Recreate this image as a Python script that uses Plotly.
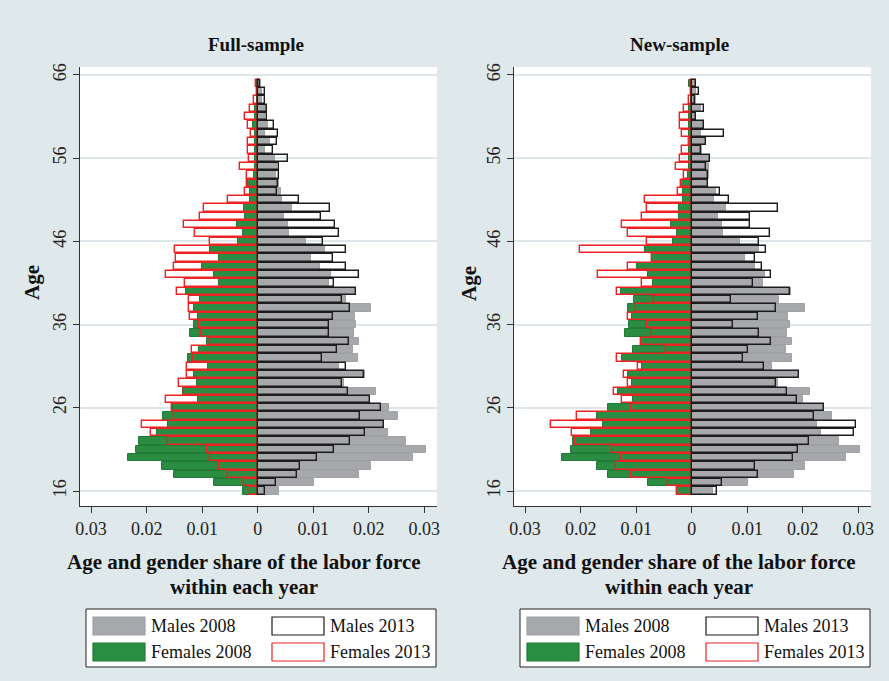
import plotly.graph_objects as go

ages = list(range(16, 66))

# ---- Full-sample (ages 16..65) ----
full_males_2008 = [0.0038, 0.0102, 0.0183, 0.0205, 0.0279, 0.0303, 0.0267, 0.0234, 0.0227, 0.0252,
                   0.0237, 0.0201, 0.0213, 0.0156, 0.0193, 0.0147, 0.0181, 0.0172, 0.0182, 0.0174,
                   0.0178, 0.0175, 0.0205, 0.0159, 0.0177, 0.0129, 0.0132, 0.0112, 0.0096, 0.0121,
                   0.0087, 0.0056, 0.0054, 0.0047, 0.0062, 0.0044, 0.0042, 0.0038, 0.0033, 0.0034,
                   0.0031, 0.0014, 0.0023, 0.0014, 0.0019, 0.0013, 0.0015, 0.0007, 0.0007, 0.0006]
full_males_2013 = [0.0013, 0.0033, 0.0071, 0.0076, 0.0106, 0.0138, 0.0167, 0.0194, 0.0228, 0.0185,
                   0.0222, 0.0203, 0.0162, 0.0151, 0.0192, 0.0159, 0.0115, 0.0142, 0.0165, 0.0129,
                   0.0129, 0.0135, 0.0167, 0.0151, 0.0178, 0.0138, 0.0182, 0.0159, 0.0136, 0.0159,
                   0.0117, 0.0147, 0.0140, 0.0114, 0.0130, 0.0074, 0.0034, 0.0037, 0.0038, 0.0038,
                   0.0055, 0.0028, 0.0034, 0.0037, 0.0030, 0.0017, 0.0017, 0.0014, 0.0013, 0.0005]
full_females_2008 = [0.0026, 0.0078, 0.0151, 0.0172, 0.0234, 0.0219, 0.0214, 0.0182, 0.0161, 0.0171,
                     0.0152, 0.0107, 0.0134, 0.0109, 0.0114, 0.0089, 0.0126, 0.0106, 0.0092, 0.0121,
                     0.0114, 0.0108, 0.0115, 0.0104, 0.0129, 0.0070, 0.0079, 0.0100, 0.0070, 0.0086,
                     0.0035, 0.0027, 0.0038, 0.0022, 0.0025, 0.0014, 0.0014, 0.0017, 0.0007, 0.0004,
                     0.0005, 0.0005, 0.0005, 0.0004, 0.0008, 0.0004, 0.0004, 0.0002, 0.0002, 0.0003]
full_females_2013 = [0.0014, 0.0024, 0.0053, 0.0070, 0.0086, 0.0092, 0.0161, 0.0193, 0.0208, 0.0150,
                     0.0154, 0.0166, 0.0133, 0.0141, 0.0128, 0.0128, 0.0116, 0.0118, 0.0085, 0.0102,
                     0.0106, 0.0121, 0.0123, 0.0123, 0.0145, 0.0130, 0.0165, 0.0150, 0.0148, 0.0149,
                     0.0086, 0.0113, 0.0132, 0.0103, 0.0096, 0.0053, 0.0022, 0.0020, 0.0020, 0.0032,
                     0.0016, 0.0018, 0.0017, 0.0012, 0.0018, 0.0022, 0.0014, 0.0007, 0.0002, 0.0003]

# ---- New-sample ----
new_males_2008 = [0.0038, 0.0102, 0.0184, 0.0205, 0.0278, 0.0303, 0.0265, 0.0233, 0.0226, 0.0252,
                  0.0239, 0.0200, 0.0214, 0.0155, 0.0194, 0.0145, 0.0181, 0.0170, 0.0181, 0.0172,
                  0.0177, 0.0174, 0.0205, 0.0157, 0.0179, 0.0129, 0.0132, 0.0114, 0.0096, 0.0122,
                  0.0087, 0.0056, 0.0054, 0.0047, 0.0061, 0.0041, 0.0044, 0.0030, 0.0031, 0.0032,
                  0.0033, 0.0019, 0.0026, 0.0016, 0.0022, 0.0008, 0.0017, 0.0008, 0.0008, 0.0008]
new_males_2013 = [0.0046, 0.0054, 0.0119, 0.0114, 0.0183, 0.0191, 0.0212, 0.0292, 0.0296, 0.0220,
                  0.0239, 0.0190, 0.0172, 0.0152, 0.0194, 0.0130, 0.0093, 0.0102, 0.0143, 0.0122,
                  0.0075, 0.0119, 0.0152, 0.0071, 0.0177, 0.0110, 0.0143, 0.0127, 0.0114, 0.0133,
                  0.0122, 0.0141, 0.0105, 0.0105, 0.0156, 0.0067, 0.0051, 0.0029, 0.0029, 0.0026,
                  0.0033, 0.0017, 0.0025, 0.0059, 0.0022, 0.0008, 0.0022, 0.0006, 0.0013, 0.0007]
new_females_2008 = [0.0026, 0.0078, 0.0151, 0.0171, 0.0233, 0.0218, 0.0213, 0.0181, 0.0159, 0.0170,
                    0.0150, 0.0106, 0.0133, 0.0108, 0.0114, 0.0089, 0.0126, 0.0105, 0.0092, 0.0120,
                    0.0113, 0.0107, 0.0114, 0.0104, 0.0128, 0.0069, 0.0079, 0.0099, 0.0071, 0.0084,
                    0.0034, 0.0026, 0.0037, 0.0022, 0.0023, 0.0016, 0.0016, 0.0019, 0.0007, 0.0004,
                    0.0004, 0.0005, 0.0005, 0.0004, 0.0005, 0.0004, 0.0004, 0.0002, 0.0002, 0.0004]
new_females_2013 = [0.0026, 0.0042, 0.0110, 0.0136, 0.0127, 0.0143, 0.0210, 0.0215, 0.0253, 0.0206,
                    0.0110, 0.0126, 0.0139, 0.0114, 0.0122, 0.0096, 0.0135, 0.0046, 0.0092, 0.0071,
                    0.0080, 0.0114, 0.0101, 0.0068, 0.0135, 0.0089, 0.0168, 0.0114, 0.0071, 0.0202,
                    0.0080, 0.0114, 0.0126, 0.0089, 0.0080, 0.0084, 0.0025, 0.0020, 0.0014, 0.0029,
                    0.0021, 0.0017, 0.0005, 0.0017, 0.0021, 0.0021, 0.0013, 0.0005, 0.0002, 0.0001]

panel_titles = ["Full-sample", "New-sample"]
x_tick_vals = [-0.03, -0.02, -0.01, 0, 0.01, 0.02, 0.03]
x_tick_text = ["0.03", "0.02", "0.01", "0", "0.01", "0.02", "0.03"]
y_tick_vals = [16, 26, 36, 46, 56, 66]
legend_labels = ["Males 2008", "Males 2013", "Females 2008", "Females 2013"]

W, H = 889, 681
BG = "#dfe8ea"
GREEN = "#2a8d42"
GREEN_LINE = "#217a37"
GRAY = "#a7a8ac"
GRAY_LINE = "#a0a1a5"
BLACK = "#1c1c1c"
RED = "#ee2222"
FONT = "Liberation Serif"


def px(x):
    return x / W


def py(y):
    return 1 - y / H


fig = go.Figure()

panels = [
    (full_males_2008, full_males_2013, full_females_2008, full_females_2013, "x", "y"),
    (new_males_2008, new_males_2013, new_females_2008, new_females_2013, "x2", "y2"),
]
BW = 0.88
for m08, m13, f08, f13, xa, ya in panels:
    fig.add_trace(go.Bar(y=ages, x=[-v for v in f08], orientation="h", width=BW,
                         marker=dict(color=GREEN, line=dict(color=GREEN_LINE, width=1)),
                         name="Females 2008", showlegend=False, xaxis=xa, yaxis=ya))
    fig.add_trace(go.Bar(y=ages, x=[-v for v in f13], orientation="h", width=BW,
                         marker=dict(color="rgba(0,0,0,0)", line=dict(color=RED, width=1.4)),
                         name="Females 2013", showlegend=False, xaxis=xa, yaxis=ya))
    fig.add_trace(go.Bar(y=ages, x=m08, orientation="h", width=BW,
                         marker=dict(color=GRAY, line=dict(color=GRAY_LINE, width=1)),
                         name="Males 2008", showlegend=False, xaxis=xa, yaxis=ya))
    fig.add_trace(go.Bar(y=ages, x=m13, orientation="h", width=BW,
                         marker=dict(color="rgba(0,0,0,0)", line=dict(color=BLACK, width=1.4)),
                         name="Males 2013", showlegend=False, xaxis=xa, yaxis=ya))

xaxis_common = dict(range=[-0.0320, 0.0323], tickvals=x_tick_vals, ticktext=x_tick_text,
                    ticks="outside", ticklen=6, tickcolor="#333", showline=True, linecolor="#333",
                    linewidth=1, zeroline=False, showgrid=False, automargin=False,
                    tickfont=dict(family=FONT, size=18, color="#222"), fixedrange=True)
yaxis_common = dict(range=[14.2, 66.96], tickvals=y_tick_vals, tickangle=-90,
                    ticks="outside", ticklen=6, tickcolor="#333", showline=True, linecolor="#333",
                    linewidth=1, zeroline=False, showgrid=True, gridcolor="#dde6e9", gridwidth=1.5,
                    automargin=False,
                    tickfont=dict(family=FONT, size=18, color="#222"), fixedrange=True)

ydom = [py(506), py(67)]
fig.update_layout(
    width=W, height=H, autosize=False, margin=dict(l=0, r=0, t=0, b=0, pad=0),
    paper_bgcolor=BG, plot_bgcolor="white", barmode="overlay", bargap=0,
    showlegend=False,
    xaxis=dict(domain=[px(80), px(437)], anchor="y", **xaxis_common),
    yaxis=dict(domain=ydom, anchor="x", **yaxis_common),
    xaxis2=dict(domain=[px(514), px(871)], anchor="y2", **xaxis_common),
    yaxis2=dict(domain=ydom, anchor="x2", **yaxis_common),
)

annotations = []
shapes = []
for i, (title, tcx, xtc, agex, lx0) in enumerate([
        (panel_titles[0], 256, 244, 32, 86),
        (panel_titles[1], 679, 679, 469, 520)]):
    annotations.append(dict(text="<b>" + title + "</b>", x=px(tcx), y=py(44), xref="paper", yref="paper",
                            showarrow=False, xanchor="center", yanchor="middle",
                            font=dict(family=FONT, size=19, color="#111")))
    annotations.append(dict(text="<b>Age</b>", x=px(agex), y=py(283), xref="paper", yref="paper",
                            showarrow=False, textangle=-90, xanchor="center", yanchor="middle",
                            font=dict(family=FONT, size=21, color="#111")))
    annotations.append(dict(text="<b>Age and gender share of the labor force</b>", x=px(xtc), y=py(562),
                            xref="paper", yref="paper", showarrow=False, xanchor="center", yanchor="middle",
                            font=dict(family=FONT, size=21, color="#111")))
    annotations.append(dict(text="<b>within each year</b>", x=px(xtc), y=py(587),
                            xref="paper", yref="paper", showarrow=False, xanchor="center", yanchor="middle",
                            font=dict(family=FONT, size=21, color="#111")))
    # legend box
    lx1 = lx0 + 350
    shapes.append(dict(type="rect", xref="paper", yref="paper", x0=px(lx0), x1=px(lx1),
                       y0=py(609), y1=py(667), fillcolor="white", line=dict(color="#222", width=1)))
    swatches = [
        (legend_labels[0], lx0 + 7, 617, GRAY, GRAY_LINE),
        (legend_labels[1], lx0 + 186, 617, "white", BLACK),
        (legend_labels[2], lx0 + 7, 643, GREEN, GREEN_LINE),
        (legend_labels[3], lx0 + 186, 643, "white", RED),
    ]
    for lab, sx, sy, fc, lc in swatches:
        shapes.append(dict(type="rect", xref="paper", yref="paper", x0=px(sx), x1=px(sx + 52),
                           y0=py(sy), y1=py(sy + 18), fillcolor=fc, line=dict(color=lc, width=1.2)))
        annotations.append(dict(text=lab, x=px(sx + 56), y=py(sy + 9), xref="paper", yref="paper",
                                showarrow=False, xanchor="left", yanchor="middle",
                                font=dict(family=FONT, size=18, color="#111")))

fig.update_layout(annotations=annotations, shapes=shapes)
fig.write_html("out.html", config={"responsive": False, "displayModeBar": False},
               post_script="document.body.style.margin='0';document.body.style.padding='0';")
